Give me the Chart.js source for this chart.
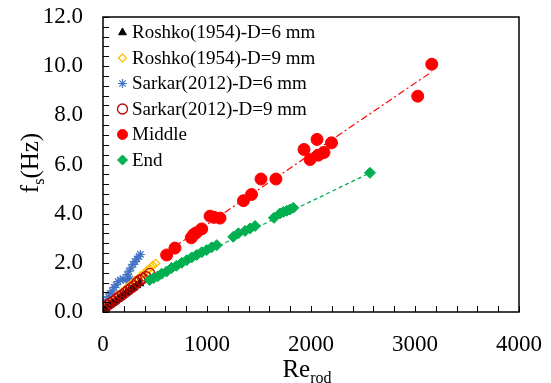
<!DOCTYPE html>
<html>
<head>
<meta charset="utf-8">
<script src="https://cdn.jsdelivr.net/npm/chart.js@4.4.0/dist/chart.umd.min.js"></script>
<style>
html, body { margin: 0; padding: 0; background: #fff; }
#wrap { position: relative; width: 551px; height: 383px; }
.axisTitle { position: absolute; width: 120px; height: 30px; line-height: 30px; text-align: center;
  font-family: "Liberation Serif", "Times New Roman", serif; font-size: 25px; color: #000; white-space: nowrap; }
.axisTitle .sub { font-size: 16px; position: relative; top: 6px; }
#xTitle { left: 247px; top: 354px; }
#yTitle { left: -30px; top: 148px; transform: rotate(-90deg); }
</style>
</head>
<body>
<div id="wrap">
  <canvas id="fsChart" width="551" height="383"></canvas>
  <div id="xTitle" class="axisTitle">Re<span class="sub">rod</span></div>
  <div id="yTitle" class="axisTitle">f<span class="sub">s</span>(Hz)</div>
</div>
<script>
// datos
var roshko6Re = [30, 50, 72, 95, 118, 145, 168, 192, 220, 243, 270, 295, 325, 355];
var roshko6F = [0.15, 0.22, 0.29, 0.36, 0.42, 0.52, 0.59, 0.67, 0.76, 0.83, 0.92, 0.99, 1.08, 1.16];

var roshko9Re = [15, 38, 62, 88, 112, 137, 165, 194, 222, 251, 279, 308, 336, 365, 393, 422, 450, 479, 507];
var roshko9F = [0.14, 0.25, 0.33, 0.45, 0.54, 0.66, 0.75, 0.85, 0.97, 1.06, 1.15, 1.28, 1.36, 1.48, 1.56, 1.69, 1.77, 1.89, 1.98];

var sarkar6Re = [8, 16, 26, 38, 51, 70, 89, 108, 127, 146, 165, 194, 222, 241, 260, 232, 251, 270, 289, 308, 327, 346, 360];
var sarkar6F = [0.15, 0.3, 0.42, 0.5, 0.62, 0.75, 0.86, 1.0, 1.1, 1.24, 1.3, 1.35, 1.3, 1.36, 1.34, 1.52, 1.66, 1.8, 1.94, 2.05, 2.16, 2.26, 2.34];

var sarkar9Re = [5, 14, 42, 71, 99, 127, 156, 184, 213, 241, 270, 298, 327, 355, 384, 412, 450];
var sarkar9F = [0.1, 0.19, 0.28, 0.36, 0.44, 0.53, 0.62, 0.7, 0.79, 0.88, 0.98, 1.06, 1.2, 1.3, 1.36, 1.44, 1.57];

var middleRe = [612, 692, 849, 872, 896, 949, 1029, 1067, 1125, 1351, 1428, 1519, 1663, 1933, 1991, 2058, 2070, 2125, 2197, 3026, 3161];
var middleF = [2.32, 2.6, 3.02, 3.15, 3.22, 3.38, 3.9, 3.85, 3.82, 4.53, 4.78, 5.41, 5.41, 6.61, 6.2, 7.02, 6.38, 6.49, 6.88, 8.78, 10.08];

var endRe = [449, 488, 526, 564, 612, 659, 706, 757, 805, 853, 901, 949, 997, 1045, 1094, 1253, 1302, 1366, 1414, 1462, 1644, 1702, 1734, 1767, 1798, 1830, 2567];
var endF = [1.3, 1.38, 1.45, 1.56, 1.65, 1.79, 1.88, 2.0, 2.11, 2.22, 2.32, 2.43, 2.52, 2.63, 2.72, 3.06, 3.2, 3.3, 3.4, 3.5, 3.83, 4.01, 4.07, 4.12, 4.17, 4.24, 5.66];

// lineas de tendencia
var middleFitRe = [574, 3161];
var middleFitF = [2.33, 9.77];
var endFitRe = [449, 2567];
var endFitF = [1.33, 5.66];

var xTicks = [0, 1000, 2000, 3000, 4000];
var yTicks = [0, 2, 4, 6, 8, 10, 12];

var serif = '"Liberation Serif", "Times New Roman", serif';

function pts(xs, ys) {
    return xs.map(function (x, i) { return { x: x, y: ys[i] }; });
}

var series = [
    { label: 'Roshko(1954)-D=6 mm', data: pts(roshko6Re, roshko6F), pointStyle: 'triangle', radius: 4.5, fill: '#000000', stroke: '#000000', bw: 1, order: 4 },
    { label: 'Roshko(1954)-D=9 mm', data: pts(roshko9Re, roshko9F), pointStyle: 'rectRot', radius: 4, fill: 'rgba(255,255,255,0)', stroke: '#FFC000', bw: 1.3, order: 5 },
    { label: 'Sarkar(2012)-D=6 mm', data: pts(sarkar6Re, sarkar6F), pointStyle: 'star', radius: 4.5, fill: '#4472C4', stroke: '#4472C4', bw: 1.2, order: 6 },
    { label: 'Sarkar(2012)-D=9 mm', data: pts(sarkar9Re, sarkar9F), pointStyle: 'circle', radius: 5, fill: 'rgba(255,255,255,0)', stroke: '#C00000', bw: 1.3, order: 3 },
    { label: 'Middle', data: pts(middleRe, middleF), pointStyle: 'circle', radius: 6, fill: '#FF0000', stroke: '#FF0000', bw: 1, order: 0 },
    { label: 'End', data: pts(endRe, endF), pointStyle: 'rectRot', radius: 5.5, fill: '#00B050', stroke: '#00B050', bw: 1, order: 1 }
];

var datasets = series.map(function (s) {
    return {
        label: s.label,
        data: s.data,
        pointStyle: s.pointStyle,
        pointRadius: s.radius,
        pointHoverRadius: s.radius,
        pointBackgroundColor: s.fill,
        pointBorderColor: s.stroke,
        pointBorderWidth: s.bw,
        backgroundColor: s.fill,
        borderColor: s.stroke,
        showLine: false,
        order: s.order
    };
});

datasets.push({
    label: 'Middle fit',
    data: pts(middleFitRe, middleFitF),
    showLine: true,
    borderColor: '#FF0000',
    borderWidth: 1.2,
    borderDash: [7, 3, 2, 3],
    pointRadius: 0,
    order: 2
});
datasets.push({
    label: 'End fit',
    data: pts(endFitRe, endFitF),
    showLine: true,
    borderColor: '#00B050',
    borderWidth: 1.3,
    borderDash: [4, 3],
    pointRadius: 0,
    order: 2
});

// marco, marcas hacia dentro y leyenda
var framePlugin = {
    id: 'frame',
    afterDraw: function (chart) {
        var ctx = chart.ctx;
        var a = chart.chartArea;
        var xs = chart.scales.x;
        var ys = chart.scales.y;
        ctx.save();
        ctx.strokeStyle = '#000';
        ctx.lineWidth = 1;
        ctx.beginPath();
        for (var v = 0; v <= 4000; v += 200) {
            var px = Math.round(xs.getPixelForValue(v)) + 0.5;
            ctx.moveTo(px, a.bottom);
            ctx.lineTo(px, a.bottom - 6);
        }
        for (var k = 0; k <= 30; k++) {
            var py = Math.round(ys.getPixelForValue(k * 0.4)) + 0.5;
            ctx.moveTo(a.left, py);
            ctx.lineTo(a.left + 6, py);
        }
        ctx.stroke();
        ctx.lineWidth = 1.5;
        ctx.strokeRect(a.left, a.top, a.right - a.left, a.bottom - a.top);

        // leyenda
        var lx = 122.5, ly = 32.5, step = 25.5;
        ctx.font = '19px ' + serif;
        ctx.textBaseline = 'middle';
        ctx.textAlign = 'left';
        series.forEach(function (s, i) {
            var y = ly + i * step;
            var r = Math.min(s.radius, 5);
            ctx.fillStyle = s.fill;
            ctx.strokeStyle = s.stroke;
            ctx.lineWidth = s.bw;
            Chart.helpers.drawPoint(ctx, { pointStyle: s.pointStyle, radius: r, borderWidth: s.bw, rotation: 0 }, lx, y);
            ctx.fillStyle = '#000';
            ctx.fillText(s.label, 132, y + 1);
        });
        ctx.restore();
    }
};

// sin margenes extra de las etiquetas
function noPad(scale) {
    scale.paddingTop = 0;
    scale.paddingBottom = 0;
    scale.paddingLeft = 0;
    scale.paddingRight = 0;
}

var ctx = document.getElementById('fsChart').getContext('2d');

var myChart = new Chart(ctx, {
    type: 'scatter',
    data: { datasets: datasets },
    options: {
        responsive: false,
        animation: false,
        layout: { padding: { left: 0, right: 32, top: 17, bottom: 0 } },
        scales: {
            x: {
                type: 'linear',
                min: 0,
                max: 4000,
                afterBuildTicks: function (scale) {
                    scale.ticks = xTicks.map(function (v) { return { value: v }; });
                },
                afterFit: function (scale) { scale.height = 71; noPad(scale); },
                grid: { display: false, drawTicks: false },
                border: { display: false },
                ticks: {
                    color: '#000',
                    padding: 19,
                    maxRotation: 0,
                    font: { family: serif, size: 23 },
                    callback: function (v) { return String(v); }
                }
            },
            y: {
                type: 'linear',
                min: 0,
                max: 12,
                afterBuildTicks: function (scale) {
                    scale.ticks = yTicks.map(function (v) { return { value: v }; });
                },
                afterFit: function (scale) { scale.width = 103; noPad(scale); },
                grid: { display: false, drawTicks: false },
                border: { display: false },
                ticks: {
                    color: '#000',
                    padding: 20,
                    font: { family: serif, size: 23 },
                    callback: function (v) { return Number(v).toFixed(1); }
                }
            }
        },
        plugins: {
            legend: { display: false },
            tooltip: { enabled: false }
        }
    },
    plugins: [framePlugin]
});
</script>
</body>
</html>
